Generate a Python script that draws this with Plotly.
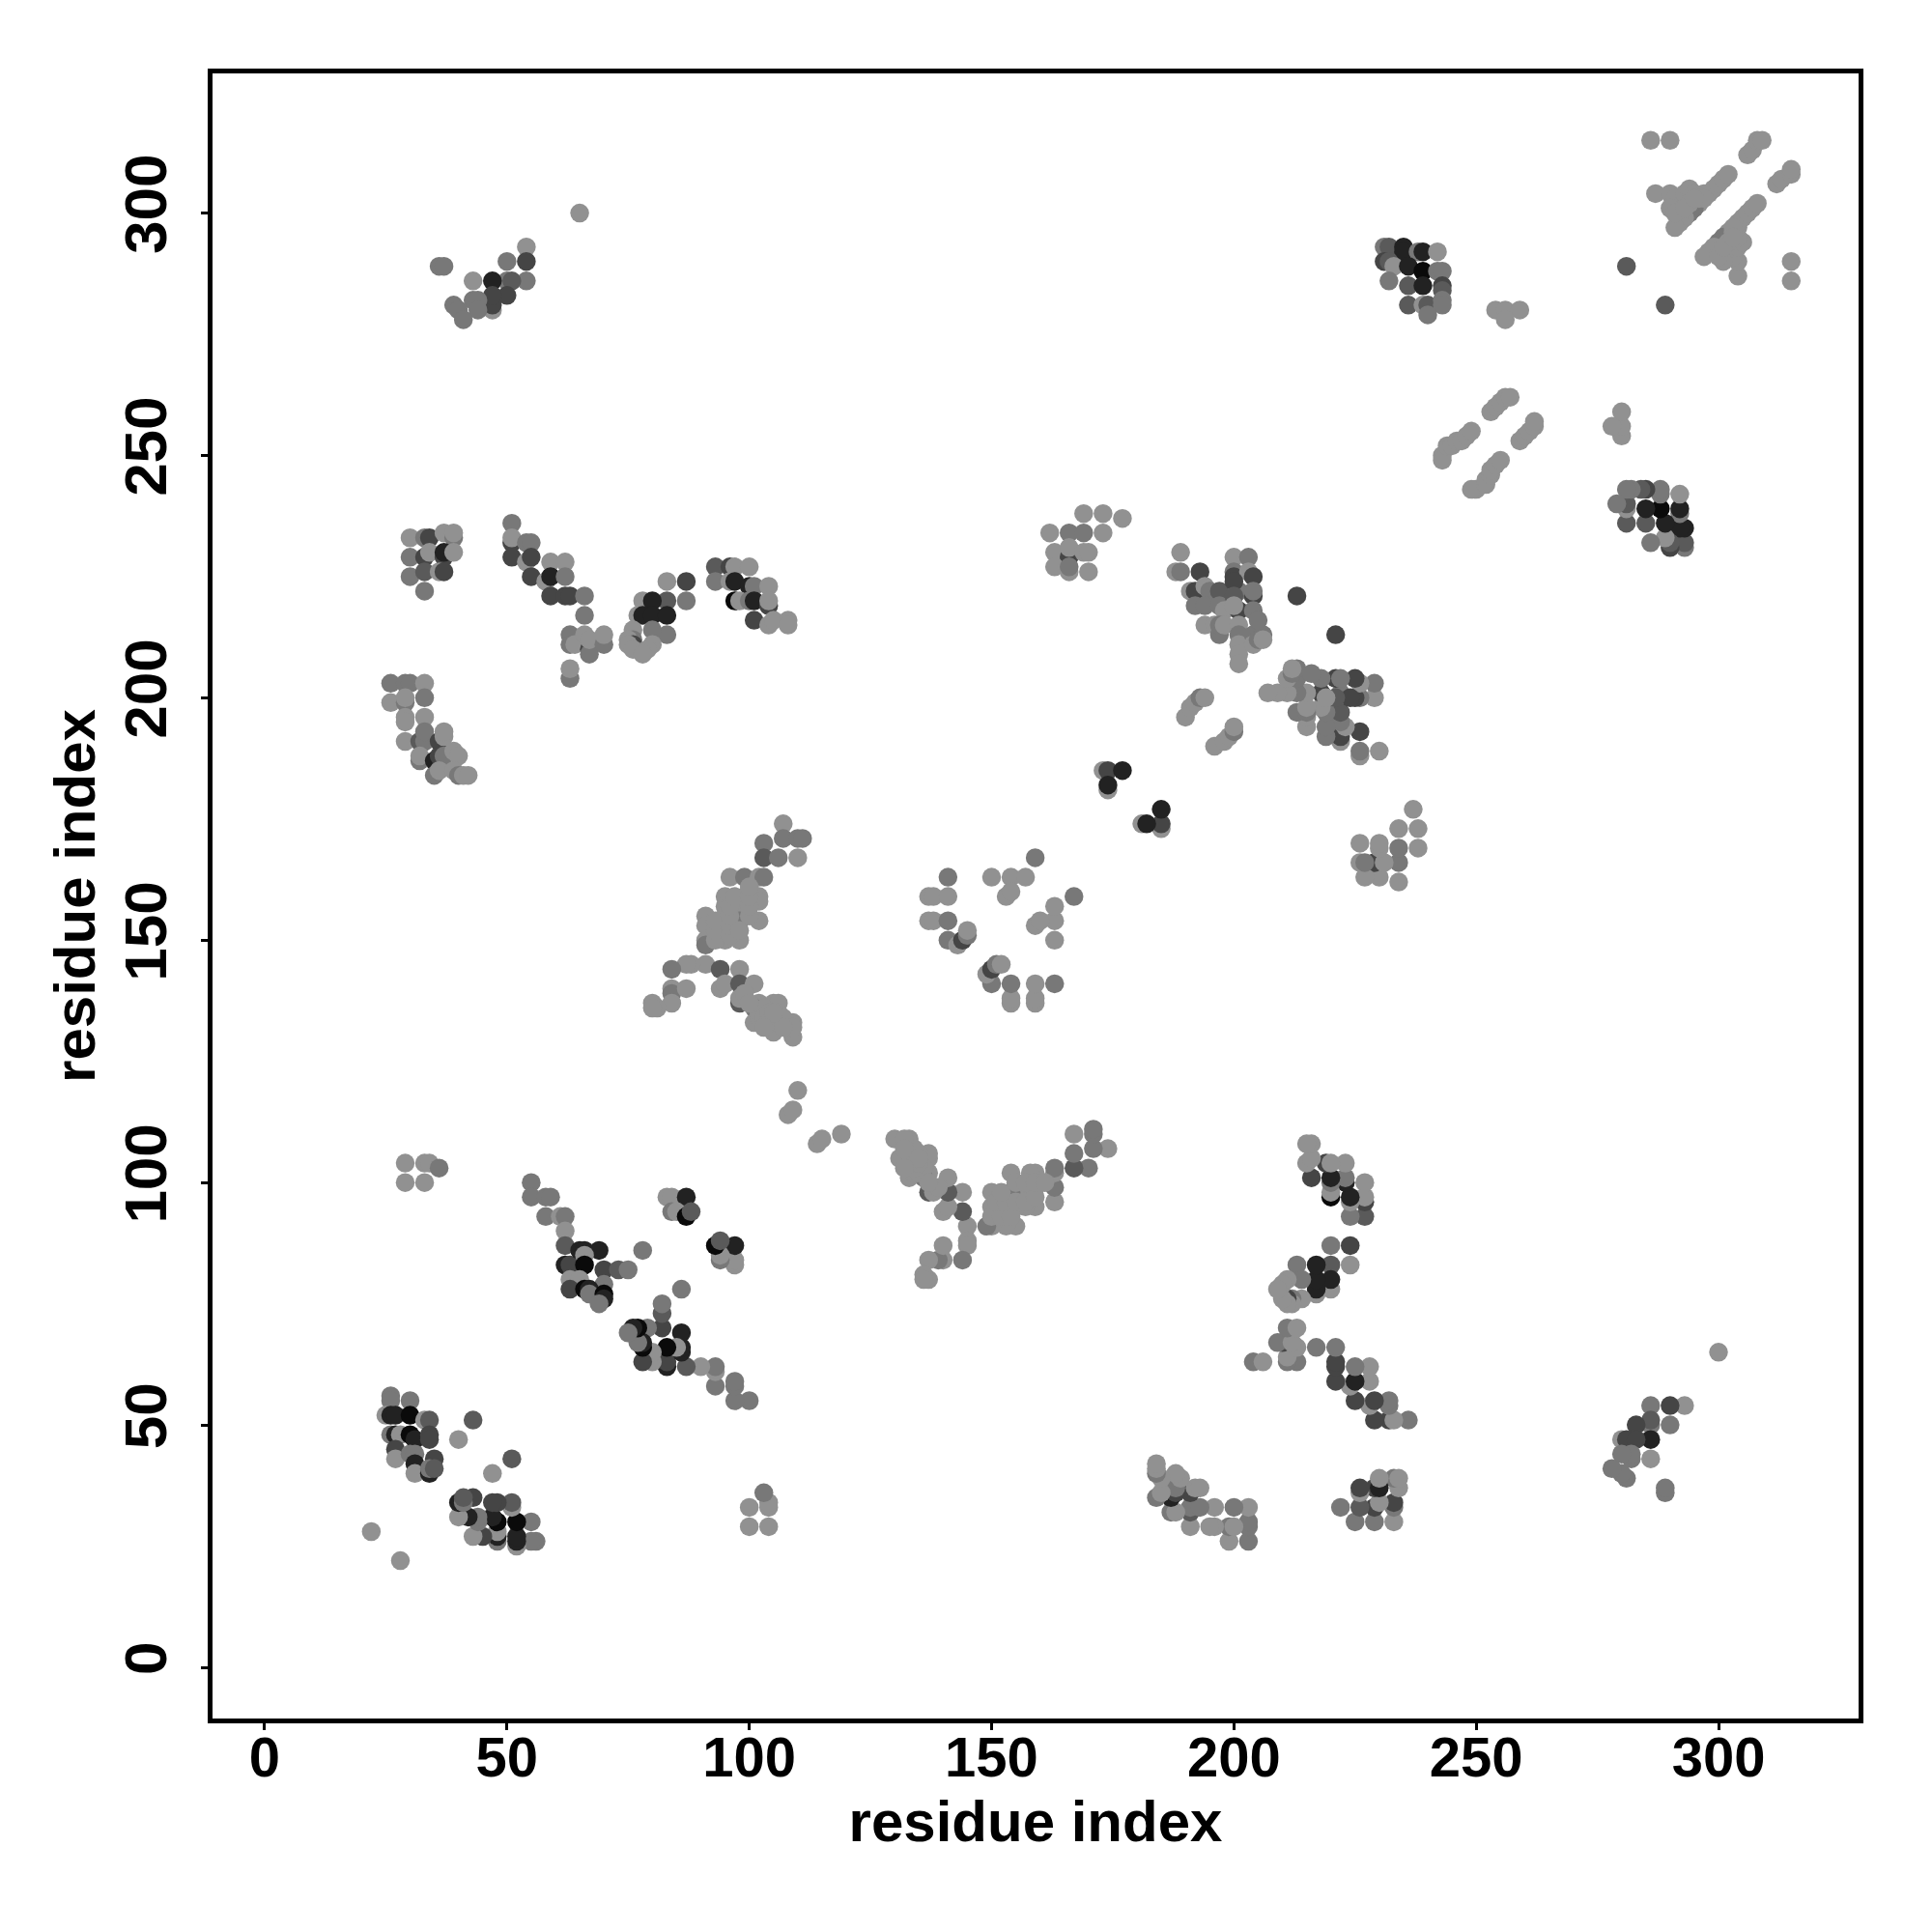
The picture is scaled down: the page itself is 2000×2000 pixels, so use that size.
import plotly.graph_objects as go

# Contacts: (residue i, residue j, contact weight 1 weak .. 6 strong)
# The map is symmetric, so each contact is listed once and also drawn as (j, i).
cluster_a = [(26,56,2),(26,55,2),(30,55,2),(25,52,1),(26,52,5),(27,52,5),(30,52,6),(33,51,1),(34,51,3),
 (26,48,2),(27,48,5),(28,48,1),(30,48,6),(31,47,5),(34,48,4),(34,47,4),(27,45,4),(27,43,1),(30,44,2),
 (31,44,2),(31,42,5),(31,40,1),(35,43,4),(34,40,5),(34,41,2),(35,41,3),(43,51,3),(40,47,1),(22,28,1)]
cluster_b = [(55,100,2),(55,97,2),(58,97,2),(59,97,2),(58,93,2),(61,93,1),(62,93,2),(62,90,1),(62,87,3),
 (62,83,5),(63,83,4),(65,86,5),(66,86,5),(69,86,5),(66,85,1),(66,83,6),(70,82,4),(73,82,3),(75,82,2),
 (63,80,1),(65,80,1),(70,79,2),(63,78,4),(66,78,6),(67,78,5),(67,77,2),(70,77,6),(70,76,5),(69,75,2),
 (78,86,2)]
cluster_c = [(83,97,1),(84,97,1),(87,97,5),(84,94,2),(85,94,1),(87,93,6),(88,94,3),(29,104,1),(33,104,1),
 (34,104,1),(36,103,2),(29,100,1),(33,100,1),(110,119,1),(108,114,1),(109,115,1)]
cluster_d = [(107,174,1),(107,171,2),(110,171,2),(111,171,2),(103,170,2),(103,167,3),(106,167,2),(110,167,1),
 (96,163,1),(99,163,2),(102,163,1),(103,163,2),(95,159,1),(99,159,1),(102,159,1),(102,158,1),(95,157,1),
 (99,157,1),(95,155,1),(99,156,1),(102,154,1),(91,155,1),(91,153,1),(95,153,2),(98,154,2),(91,150,1),
 (91,149,2),(95,150,1),(98,150,1),(91,145,1),(88,145,1),(87,145,1),(84,144,2),(94,144,3),(98,144,1),
 (84,140,1),(84,139,2),(87,140,1),(94,140,1),(95,141,1),(98,141,3),(101,141,1),(98,137,3),(98,138,1),
 (84,137,1),(80,137,1),(81,136,1),(80,136,1),(102,137,1),(101,136,2),(101,133,1),(102,134,1),(105,137,1),
 (106,137,1),(105,133,1),(105,131,1),(109,133,1),(109,130,1)]
cluster_d2 = [(93,150,1),(93,152,1),(93,154,1),(96,151,1),(96,153,1),(96,155,1),(96,157,1),(97,159,1),(98,152,1),
 (100,155,1),(100,157,1),(100,159,1),(100,161,1),(102,135,1),(103,136,1),(103,134,1),(104,135,1),(104,133,1),
 (106,135,1),(106,133,1),(107,134,1),(109,132,1),(107,132,1),(105,135,1),(103,132,1),(99,139,1),(100,137,1)]
cluster_e = [(159,167,2),(141,163,2),(150,163,1),(154,163,1),(157,163,1),(137,159,1),(138,159,1),(141,159,1),
 (153,159,1),(154,160,1),(137,154,1),(138,154,1),(141,154,2),(141,150,2),(143,149,1),(144,150,4),
 (145,151,2),(145,152,1),(173,185,1),(174,185,4),(177,185,5),(174,181,1),(174,182,5),(65,300,1)]
cluster_f = [(30,233,1),(33,233,2),(34,233,4),(37,234,1),(39,233,2),(39,234,1),(30,229,2),(33,229,4),(34,230,1),
 (37,229,4),(37,230,5),(39,230,1),(30,225,2),(33,226,3),(36,226,1),(37,226,4),(33,222,2)]
cluster_g = [(51,236,2),(51,232,4),(51,233,1),(51,229,4),(54,228,1),(54,232,2),(55,232,2),(55,229,4),(59,228,1),
 (62,228,1),(55,225,4),(58,224,1),(59,225,5),(62,225,2),(59,221,4),(62,221,4),(63,221,4),(66,221,2),
 (66,217,2),(63,213,2),(63,211,2),(64,211,1),(67,210,4),(67,209,2),(66,213,1),(67,212,1),(70,211,2),
 (70,213,1),(63,204,2),(63,206,1)]
cluster_h = [(83,224,1),(87,224,4),(87,220,2),(78,220,1),(83,220,3),(80,220,5),(77,217,1),(78,217,5),(80,217,5),
 (83,217,5),(83,213,2),(76,214,1),(80,214,2),(76,212,2),(75,212,1),(76,211,4),(75,211,1),(76,210,1),
 (80,211,1),(79,210,1),(78,209,1)]
cluster_i = [(93,227,3),(96,227,4),(97,227,1),(100,227,1),(93,224,2),(96,224,1),(97,224,5),(100,223,5),(101,223,2),
 (104,223,1),(97,220,6),(98,220,1),(100,220,2),(101,220,5),(104,219,4),(104,220,1),(101,216,4),(104,215,1),
 (105,216,1),(108,216,1),(108,215,1)]
cluster_j = [(26,203,2),(29,203,2),(30,203,2),(33,203,1),(26,199,1),(29,199,2),(29,200,1),(33,200,2),(29,196,1),
 (29,195,1),(33,196,1),(29,191,1),(32,191,3),(33,191,2),(33,193,2),(36,191,4),(37,192,1),(37,193,1),
 (32,187,2),(32,188,1),(35,187,5),(36,188,4),(37,188,2),(39,189,1),(40,188,1),(35,184,2),(36,185,1),
 (39,185,1),(40,184,2),(41,184,1),(42,184,1)]
cluster_k = [(54,293,1),(54,290,4),(54,286,2),(50,290,2),(50,286,2),(51,286,3),(50,283,4),(47,286,5),(43,286,1),
 (47,280,1),(47,281,4),(47,283,4),(43,282,2),(44,282,2),(44,280,2),(39,281,2),(40,280,2),(41,278,2),
 (36,289,2),(37,289,2)]
cluster_l = [(286,315,1),(290,315,1),(306,312,1),(307,313,1),(308,315,1),(309,315,1),(287,304,1),(290,304,1),
 (291,303,1),(293,304,1),(294,305,1),(295,304,1),(297,304,1),(298,304,1),(299,305,1),(300,306,1),(301,307,1),
 (302,308,1),(296,302,1),(295,301,2),(294,300,2),(293,299,1),(292,298,1),(291,297,1),(290,301,1),(291,300,1),
 (296,303,1),(294,302,1),(297,303,1),(293,301,1),(295,303,1),(281,289,3)]
cluster_m = [(231,293,2),(232,293,3),(235,293,5),(235,292,5),(238,292,2),(239,292,5),(242,292,1),(231,290,4),
 (232,290,3),(233,289,1),(236,289,5),(239,288,6),(242,288,2),(243,288,2),(232,286,2),(236,285,3),(239,285,5),
 (243,285,4),(243,284,3),(236,281,3),(239,281,1),(240,281,3),(243,282,2),(243,281,2),(240,279,2)]
cluster_n = [(243,250,1),(243,249,1),(244,252,1),(245,252,1),(246,253,1),(247,253,1),(248,254,1),(249,255,1),
 (253,259,1),(254,260,1),(255,261,1),(256,262,1),(257,262,1),(254,280,1),(256,280,1),(259,280,1),(256,278,1)]
cluster_o = [(162,234,1),(166,234,2),(169,234,2),(173,234,1),(173,238,1),(169,238,1),(177,237,1),(163,230,1),
 (166,229,4),(166,231,1),(169,230,1),(170,230,1),(163,227,1),(166,226,1),(166,227,2),(170,226,1)]
cluster_p = [(189,230,1),(188,226,1),(189,226,2),(193,226,4),(191,222,1),(192,222,4),(194,223,1),(195,222,2),
 (197,222,3),(200,229,1),(203,229,2),(200,226,2),(200,225,4),(203,226,1),(204,225,4),(201,222,2),(204,221,4),
 (204,222,2),(192,219,2),(194,219,2),(197,219,2),(198,218,1),(201,218,4),(204,218,2),(194,215,1),(196,215,1),
 (197,213,2),(197,215,2),(198,215,1),(201,215,1),(201,213,2),(201,211,1),(201,209,1),(201,207,1),(204,213,2),
 (204,211,1),(205,212,2),(206,213,2),(206,212,1),(213,221,4),(190,196,1),(191,198,1),(192,199,1),(193,200,2),
 (194,200,1),(200,224,4),(200,221,3),(200,219,1),(205,216,2)]

clusters = [cluster_a, cluster_b, cluster_c, cluster_d, cluster_d2, cluster_e, cluster_f, cluster_g, cluster_h,
            cluster_i, cluster_j, cluster_k, cluster_l, cluster_m, cluster_n, cluster_o, cluster_p]
weight_colors = {1: "#919191", 2: "#787878", 3: "#5a5a5a", 4: "#454545", 5: "#222222", 6: "#0a0a0a"}
ticks = [0, 50, 100, 150, 200, 250, 300]

xs, ys, cs = [], [], []
for cl in clusters:
    for i, j, w in cl:
        xs += [i, j]
        ys += [j, i]
        cs += [weight_colors[w]] * 2

fig = go.Figure(go.Scatter(x=xs, y=ys, mode="markers", cliponaxis=True,
                           marker=dict(size=19.5, color=cs, line=dict(width=0))))
font = dict(family="Liberation Sans", size=58, color="black", weight="bold")
yfont = dict(font, size=62)
title_font = dict(font, size=60)
axis = dict(tickvals=ticks, ticktext=[str(t) for t in ticks], ticks="outside",
            ticklen=7, tickwidth=3, tickcolor="black", showgrid=False, zeroline=False, showline=True,
            linecolor="black", linewidth=5, mirror=True, automargin=False)
fig.update_layout(width=1984, height=1984, paper_bgcolor="white", plot_bgcolor="white", showlegend=False,
                  margin=dict(l=212, r=68, t=68, b=213),
                  xaxis=dict(axis, range=[-10.76, 328.9], tickfont=font, ticklabelstandoff=-22,
                             title=dict(text="residue index", font=title_font, standoff=16)),
                  yaxis=dict(axis, range=[-10.56, 328.8], tickfont=yfont, tickangle=-90, ticklabelstandoff=11,
                             title=dict(text="residue index", font=title_font, standoff=0)))
fig.write_html("out.html")
